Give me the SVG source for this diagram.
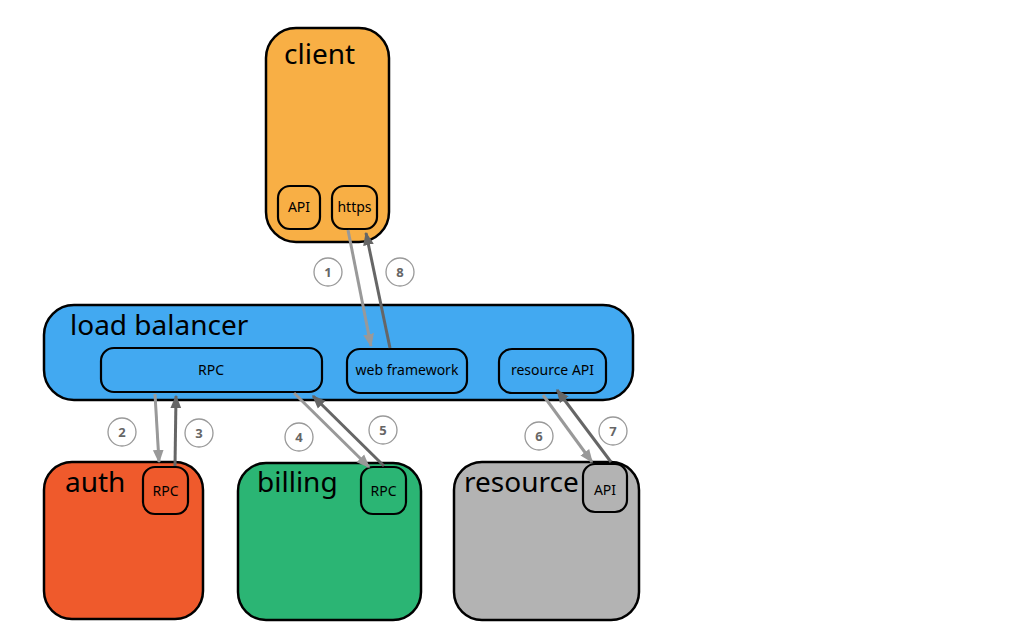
<svg xmlns="http://www.w3.org/2000/svg" width="1032" height="641" viewBox="0 0 1032 641">
<style>
.box{stroke:#000;stroke-width:2.5}
.sub{stroke:#000;stroke-width:2.2}
.big{font-family:"Noto Sans","DejaVu Sans",sans-serif;font-size:28px;fill:#000}
.sm{font-family:"Noto Sans","DejaVu Sans",sans-serif;font-size:14px;fill:#000;text-anchor:middle}
.req{stroke:#999;stroke-width:3;fill:none;marker-end:url(#ah1)}
.res{stroke:#666;stroke-width:3;fill:none;marker-end:url(#ah2)}
.num circle{fill:#fff;stroke:#999;stroke-width:1.3}
.num text{font-family:"Noto Sans","DejaVu Sans",sans-serif;font-size:13px;font-weight:bold;fill:#666;text-anchor:middle}
</style>
<defs>
<marker id="ah1" viewBox="0 0 10 10" refX="9" refY="5" markerWidth="4.5" markerHeight="4.5" orient="auto" markerUnits="strokeWidth"><path d="M0,1 L10,5 L0,9 z" fill="#999"/></marker>
<marker id="ah2" viewBox="0 0 10 10" refX="9" refY="5" markerWidth="4.5" markerHeight="4.5" orient="auto" markerUnits="strokeWidth"><path d="M0,1 L10,5 L0,9 z" fill="#666"/></marker>
</defs>
<rect width="1032" height="641" fill="#fff"/>
<g id="client">
<rect class="box" x="266" y="28" width="123" height="214" rx="30" fill="#F8AF45"/>
<text class="big" x="284" y="64">client</text>
<rect class="sub" x="278" y="186" width="42" height="43" rx="12" fill="#F8AF45"/>
<text class="sm" x="299" y="212">API</text>
<rect class="sub" x="332" y="186" width="45" height="43" rx="12" fill="#F8AF45"/>
<text class="sm" x="354.5" y="212">https</text>
</g>
<g id="load-balancer">
<rect class="box" x="44" y="305" width="589" height="95" rx="30" fill="#42A9F1"/>
<text class="big" x="70" y="335">load balancer</text>
<rect class="sub" x="101" y="348" width="221" height="44" rx="13" fill="#42A9F1"/>
<text class="sm" x="211" y="375">RPC</text>
<rect class="sub" x="347" y="349" width="120" height="44" rx="13" fill="#42A9F1"/>
<text class="sm" x="407" y="375">web framework</text>
<rect class="sub" x="499" y="349" width="107" height="44" rx="13" fill="#42A9F1"/>
<text class="sm" x="552.5" y="375">resource API</text>
</g>
<g id="auth">
<rect class="box" x="44" y="462" width="159" height="157" rx="28" fill="#EF5A2C"/>
<text class="big" x="65" y="492">auth</text>
<rect class="sub" x="143" y="467" width="45" height="47" rx="12" fill="#EF5A2C"/>
<text class="sm" x="165.5" y="496">RPC</text>
</g>
<g id="billing">
<rect class="box" x="238" y="463" width="183" height="157" rx="28" fill="#2BB574"/>
<text class="big" x="257" y="492">billing</text>
<rect class="sub" x="361" y="467" width="45" height="47" rx="12" fill="#2BB574"/>
<text class="sm" x="383.5" y="496">RPC</text>
</g>
<g id="resource">
<rect class="box" x="454" y="462" width="185" height="158" rx="28" fill="#B3B3B3"/>
<text class="big" x="464" y="492">resource</text>
<rect class="sub" x="583" y="464" width="44" height="48" rx="12" fill="#B3B3B3"/>
<text class="sm" x="605" y="495">API</text>
</g>
<g id="connectors">
<line class="req" x1="348" y1="230" x2="371" y2="346"/>
<line class="res" x1="390" y1="348" x2="366" y2="233"/>
<line class="req" x1="155" y1="394" x2="159" y2="462"/>
<line class="res" x1="175" y1="466" x2="176" y2="396"/>
<line class="req" x1="294" y1="393" x2="369" y2="467"/>
<line class="res" x1="384" y1="466" x2="313" y2="396"/>
<line class="req" x1="543" y1="395" x2="592" y2="462"/>
<line class="res" x1="611" y1="462" x2="557" y2="390"/>
</g>
<g id="labels" class="num">
<circle cx="328" cy="272" r="14"/><text x="328" y="277">1</text>
<circle cx="400" cy="272" r="14"/><text x="400" y="277">8</text>
<circle cx="122" cy="432" r="14"/><text x="122" y="437">2</text>
<circle cx="199" cy="433" r="14"/><text x="199" y="438">3</text>
<circle cx="299" cy="437" r="14"/><text x="299" y="442">4</text>
<circle cx="383" cy="430" r="14"/><text x="383" y="435">5</text>
<circle cx="539" cy="436" r="14"/><text x="539" y="441">6</text>
<circle cx="613" cy="431" r="14"/><text x="613" y="436">7</text>
</g>
</svg>
